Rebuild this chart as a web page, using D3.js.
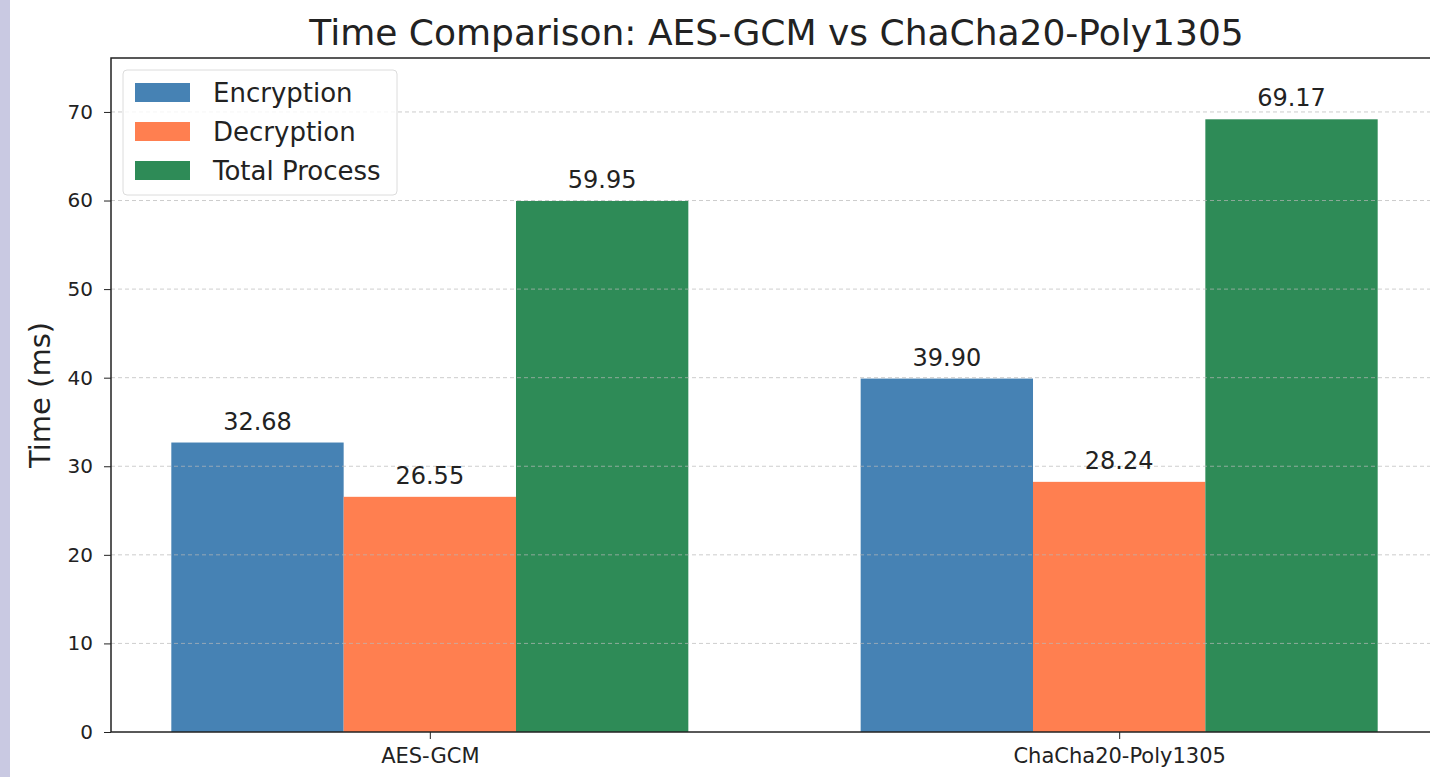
<!DOCTYPE html>
<html>
<head>
<meta charset="utf-8">
<script src="https://cdn.jsdelivr.net/npm/d3@7"></script>
<style>
  body { margin: 0; background: #fff; font-family: "DejaVu Sans", sans-serif; }
  svg text { fill: #222; }
</style>
</head>
<body>
<div id="chart-area"></div>
<script>
// data
var categories = ["AES-GCM", "ChaCha20-Poly1305"];
var seriesNames = ["Encryption", "Decryption", "Total Process"];
var encryption = [32.68, 39.90];
var decryption = [26.55, 28.24];
var totalProcess = [59.95, 69.17];
var yTicks = [0, 10, 20, 30, 40, 50, 60, 70];
var colors = ["#4682b4", "#ff7f50", "#2e8b57"];

var W = 1430, H = 777;
var margin = {top: 58, right: -8, bottom: 45, left: 111};
var width = W - margin.left - margin.right;
var height = H - margin.top - margin.bottom;

var svg = d3.select("#chart-area")
  .append("svg")
    .attr("width", W)
    .attr("height", H);

// lavender strip on the left edge
svg.append("rect")
  .attr("x", 0).attr("y", 0)
  .attr("width", 10).attr("height", H)
  .attr("fill", "#c9c9e2");

var g = svg.append("g")
  .attr("transform", "translate(" + margin.left + ", " + margin.top + ")");

var values = [encryption, decryption, totalProcess];
var rows = [];
categories.forEach(function(c, i) {
  seriesNames.forEach(function(s, j) {
    rows.push({cat: i, series: j, value: values[j][i]});
  });
});

// numeric x like matplotlib: group positions 0,1; bar width 0.25
var barW = 0.25;
var x = d3.scaleLinear().domain([-0.4625, 1.4625]).range([0, width]);
var y = d3.scaleLinear().domain([0, 76.09]).range([height, 0]);

// bars
g.selectAll("rect.bar")
  .data(rows)
  .enter()
  .append("rect")
    .attr("class", "bar")
    .attr("x", function(d) { return x(d.cat + (d.series - 1) * barW - barW / 2); })
    .attr("width", function(d) { return x(barW) - x(0); })
    .attr("y", function(d) { return y(d.value); })
    .attr("height", function(d) { return height - y(d.value); })
    .attr("fill", function(d) { return colors[d.series]; });

// dashed grid on top of bars
g.selectAll("line.grid")
  .data(yTicks.slice(1))
  .enter()
  .append("line")
    .attr("class", "grid")
    .attr("x1", 0).attr("x2", width)
    .attr("y1", function(d) { return y(d); })
    .attr("y2", function(d) { return y(d); })
    .attr("stroke", "#b8b8b8")
    .attr("stroke-opacity", 0.7)
    .attr("stroke-dasharray", "4,3")
    .attr("stroke-width", 1);

// value labels
g.selectAll("text.val")
  .data(rows)
  .enter()
  .append("text")
    .attr("class", "val")
    .attr("x", function(d) { return x(d.cat + (d.series - 1) * barW); })
    .attr("y", function(d) { return y(d.value) - 13; })
    .attr("text-anchor", "middle")
    .attr("font-size", "24px")
    .text(function(d) { return d.value.toFixed(2); });

// axes
var leftAxis = d3.axisLeft(y).tickValues(yTicks).tickSize(7).tickPadding(11);
var ga = g.append("g").attr("class", "left axis").call(leftAxis);
ga.selectAll("text").attr("font-size", "20px").attr("font-family", "DejaVu Sans").style("fill", "#222");
ga.selectAll("line").attr("stroke", "#222");
ga.select(".domain").remove();

var bottomAxis = d3.axisBottom(x).tickValues([0, 1])
  .tickFormat(function(d) { return categories[d]; })
  .tickSize(7).tickPadding(9);
var gb = g.append("g").attr("class", "bottom axis")
  .attr("transform", "translate(0, " + height + ")")
  .call(bottomAxis);
gb.selectAll("text").attr("font-size", "21px").attr("font-family", "DejaVu Sans").style("fill", "#222");
gb.selectAll("line").attr("stroke", "#222");
gb.select(".domain").remove();

// frame
g.append("rect")
  .attr("x", 0).attr("y", 0)
  .attr("width", width).attr("height", height)
  .attr("fill", "none")
  .attr("stroke", "#222")
  .attr("stroke-width", 1.5);

// title + y label
svg.append("text")
  .attr("x", margin.left + width / 2 + 2)
  .attr("y", 45)
  .attr("text-anchor", "middle")
  .attr("font-size", "36px")
  .text("Time Comparison: AES-GCM vs ChaCha20-Poly1305");

svg.append("text")
  .attr("transform", "translate(50, 395) rotate(-90)")
  .attr("text-anchor", "middle")
  .attr("font-size", "29px")
  .text("Time (ms)");

// legend
var lg = g.append("g").attr("transform", "translate(12, 12)");
lg.append("rect")
  .attr("width", 274).attr("height", 125)
  .attr("rx", 4)
  .attr("fill", "#fff")
  .attr("fill-opacity", 0.8)
  .attr("stroke", "#dcdcdc");
seriesNames.forEach(function(s, i) {
  lg.append("rect")
    .attr("x", 12).attr("y", 13 + i * 39)
    .attr("width", 55).attr("height", 19)
    .attr("fill", colors[i]);
  lg.append("text")
    .attr("x", 90).attr("y", 22.5 + i * 39)
    .attr("dy", "0.35em")
    .attr("font-size", "26px")
    .text(s);
});
</script>
</body>
</html>
